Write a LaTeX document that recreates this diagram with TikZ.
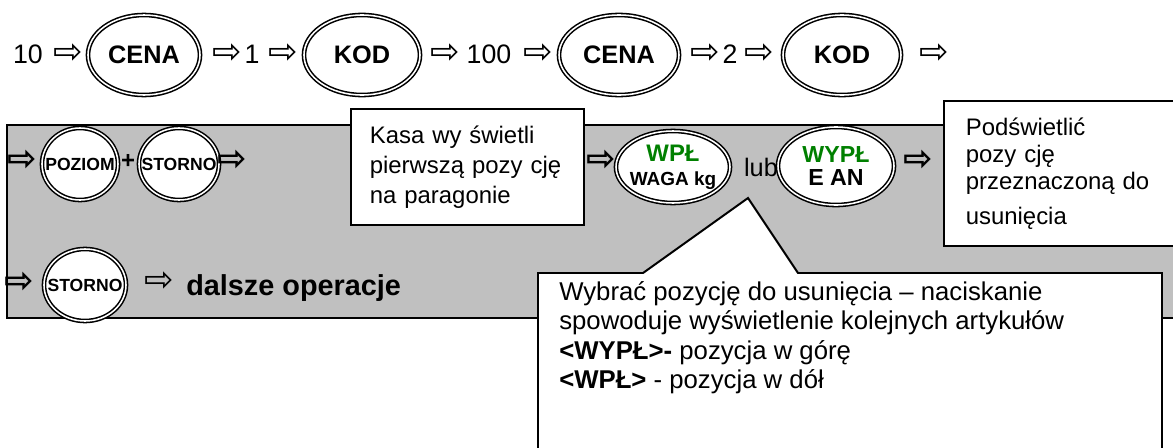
\documentclass[tikz,border=0pt]{standalone}
\usepackage{fontspec}
\setmainfont{Liberation Sans}
\newfontfamily\arrowfont{DejaVu Sans}
\usepackage{xcolor}
\usetikzlibrary{positioning,shapes.geometric}
\definecolor{panelgray}{RGB}{192,192,192}
\definecolor{keygreen}{RGB}{0,128,0}

\begin{document}
\begin{tikzpicture}[
x=0.025cm, y=-0.025cm,
key/.style={
ellipse,
draw,
double,
line width=1.1pt,
double distance=1.1pt,
fill=white,
inner xsep=-14pt,
inner ysep=-6pt,
font=\bfseries\fontsize{18}{20}\selectfont
},
smallkey/.style={key, font=\bfseries\fontsize{12.5}{14}\selectfont},
num/.style={inner sep=0pt, font=\fontsize{19}{22}\selectfont},
arr/.style={inner sep=0pt, font=\arrowfont\fontsize{25}{27}\selectfont},
bigarr/.style={inner sep=0pt, font=\arrowfont\bfseries\fontsize{25}{27}\selectfont},
note/.style={
rectangle,
draw,
line width=1.2pt,
fill=white,
align=left,
anchor=north west,
inner ysep=0pt,
font=\fontsize{17}{21.3}\selectfont
}
]

\useasboundingbox (0,0) rectangle (1173,448);
\clip (0,0) rectangle (1173,448);

% first row
\node[num] (n10) at (28,54) {10};
\node[arr] (a1) at (68,54) {⇨};
\node[key, minimum width=2.8cm, minimum height=2.0cm] (cena1) at (144,55) {CENA};
\node[arr] (a2) at (227,54) {⇨};
\node[num] (n1) at (252,54) {1};
\node[arr] (a3) at (283,54) {⇨};
\node[key, minimum width=2.9cm, minimum height=2.0cm] (kod1) at (362,55) {KOD};
\node[arr] (a4) at (445,54) {⇨};
\node[num] (n100) at (489,54) {100};
\node[arr] (a5) at (538,54) {⇨};
\node[key, minimum width=3.0cm, minimum height=2.0cm] (cena2) at (619,55) {CENA};
\node[arr] (a6) at (705,54) {⇨};
\node[num] (n2) at (730,54) {2};
\node[arr] (a7) at (759,54) {⇨};
\node[key, minimum width=2.95cm, minimum height=2.0cm] (kod2) at (842,55) {KOD};
\node[arr] (a8) at (934,54) {⇨};

% grey panel and hint
\draw[line width=1.4pt, fill=panelgray] (7,125) rectangle (1190,318);
\coordinate (tip) at (748,198);
\draw[line width=1.4pt, fill=white] (538,273) -- (643,273) -- (tip) -- (798,273)
  -- (1162,273) -- (1162,470) -- (538,470) -- cycle;
\node[anchor=north west, inner sep=0pt, align=left, font=\fontsize{18.3}{21}\selectfont] (hint) at (559,281)
  {Wybrać pozycję do usunięcia -- naciskanie\\
   spowoduje wyświetlenie kolejnych artykułów\\
   \textbf{<WYPŁ>-} pozycja w górę\\
   \textbf{<WPŁ>} - pozycja w dół};

% second row
\node[bigarr] (p1) at (22,160) {⇨};
\node[smallkey, minimum width=1.9cm, minimum height=1.8cm] (poziom) at (80,164) {POZIOM};
\node[inner sep=0pt, font=\bfseries\fontsize{17}{18}\selectfont] (plus) at (128,161) {+};
\node[smallkey, minimum width=2.0cm, minimum height=1.8cm] (storno1) at (179,164) {STORNO};
\node[bigarr] (p2) at (232,160) {⇨};
\node[note, minimum width=5.825cm, minimum height=2.9cm, text width=4.875cm, inner xsep=0.475cm] (kasa) at (350,108)
  {Kasa wy świetli\\ pierwszą pozy cję\\ na paragonie};
\node[bigarr] (p3) at (601,160) {⇨};
\node[key, minimum width=2.85cm, minimum height=1.8cm, align=center] (wpl) at (673,167)
  {{\color{keygreen}\fontsize{17}{18}\selectfont WPŁ}\\[-3pt]{\fontsize{13.5}{15}\selectfont WAGA kg}};
\node[inner sep=0pt, font=\fontsize{18}{20}\selectfont] (lub) at (761,167) {lub};
\node[key, minimum width=2.9cm, minimum height=1.95cm, align=center, font=\bfseries\fontsize{16.5}{18}\selectfont] (wypl) at (836,166)
  {{\color{keygreen}WYPŁ}\\[-1pt]E AN};
\node[bigarr] (p4) at (918,160) {⇨};
\node[note, minimum width=6.2cm, minimum height=3.625cm, text width=5.1cm, inner xsep=0.55cm, font=\fontsize{17}{19.5}\selectfont] (podsw) at (943,100)
  {Podświetlić\\ pozy cję\\ przeznaczoną do\\[5pt] usunięcia};

% third row
\node[bigarr] (q1) at (19,282) {⇨};
\node[smallkey, minimum width=2.05cm, minimum height=1.8cm] (storno2) at (85,285) {STORNO};
\node[arr] (q2) at (159,282) {⇨};
\node[anchor=base west, inner sep=0pt, font=\bfseries\fontsize{20.5}{22}\selectfont] (dalsze) at (186,295) {dalsze operacje};

\end{tikzpicture}
\end{document}
